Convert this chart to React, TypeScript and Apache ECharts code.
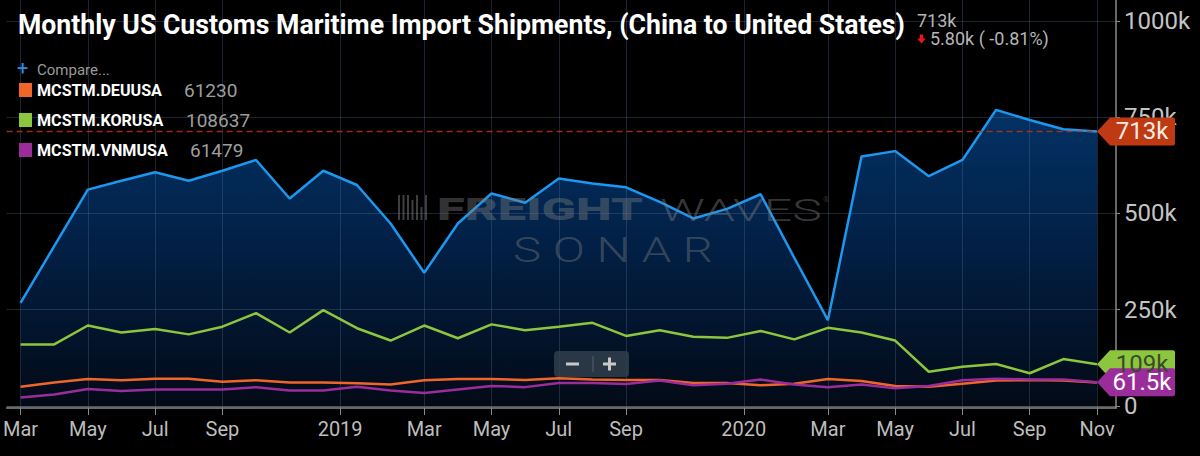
import React, { useEffect, useRef } from "react";
import * as echarts from "echarts";

// Months from Mar 2018 to Nov 2020 (index 0..32)
const monthLabels = [
  "2018-03", "2018-04", "2018-05", "2018-06", "2018-07", "2018-08", "2018-09", "2018-10", "2018-11", "2018-12",
  "2019-01", "2019-02", "2019-03", "2019-04", "2019-05", "2019-06", "2019-07", "2019-08", "2019-09", "2019-10",
  "2019-11", "2019-12", "2020-01", "2020-02", "2020-03", "2020-04", "2020-05", "2020-06", "2020-07", "2020-08",
  "2020-09", "2020-10", "2020-11",
];

// values in thousands of shipments
const chinaK = [268, 415, 562, 585, 607, 585, 611, 639, 539, 611, 574, 474, 346, 474, 552, 528, 591, 578, 568, 530, 487, 512, 550, 385, 223, 648, 662, 597, 639, 769, 743, 719, 713];
const koreaK = [160, 160, 209, 191, 200, 186, 206, 241, 191, 249, 202, 170, 209, 176, 212, 197, 206, 216, 182, 197, 180, 177, 195, 173, 203, 191, 170, 89, 102, 109, 85, 122, 108.637];
const germanyK = [50, 61, 70, 67, 71, 71, 63, 67, 61, 61, 59, 56, 67, 70, 70, 67.5, 72, 69, 67.5, 67.5, 60, 60, 54, 58, 70, 65, 52, 50, 58, 66, 67.5, 66, 61.23];
const vietnamK = [22, 30, 44, 39, 43, 43, 43, 49, 40, 40, 50, 40, 34, 43, 52, 49, 60, 60, 57, 66, 54, 58, 69, 56, 49, 56, 46, 52, 67, 71, 69, 69, 61.479];

const seriesNames = ["MCSTM.CHNUSA", "MCSTM.KORUSA", "MCSTM.DEUUSA", "MCSTM.VNMUSA"];

const xTickPositions = [0, 2, 4, 6, 9.5, 12, 14, 16, 18, 21.5, 24, 26, 28, 30, 32];
const xTickLabels = ["Mar", "May", "Jul", "Sep", "2019", "Mar", "May", "Jul", "Sep", "2020", "Mar", "May", "Jul", "Sep", "Nov"];
const yTickValues = [0, 250, 500, 750, 1000];

const titleText = "Monthly US Customs Maritime Import Shipments, (China to United States)";
const headlineValue = "713k";
const headlineChange = "5.80k ( -0.81%)";

const FONT = 'Roboto, "Noto Sans", sans-serif';

function measure(text: string, font: string): number {
  const ctx = document.createElement("canvas").getContext("2d");
  if (!ctx) return text.length * 10;
  ctx.font = font;
  return ctx.measureText(text).width;
}

function fitScale(text: string, weight: string, size: number, target: number): number {
  const w = measure(text, `${weight} ${size}px Roboto`);
  return w > 0 ? target / w : 1;
}

function tagLabel(v: number): string {
  return v >= 100 ? `${Math.round(v)}k` : `${v.toFixed(1)}k`;
}

const pairs = (arr: number[]) => arr.map((v, i) => [i, v]);
const last = (arr: number[]) => arr[arr.length - 1];

const TAG_PATH = "path://M0,14 L13,0 L76,0 Q78,0 78,2 L78,26 Q78,28 76,28 L13,28 Z";

function tagMarker(arr: number[], bg: string, fg: string) {
  const v = last(arr);
  return {
    silent: true,
    symbol: TAG_PATH,
    symbolSize: [78, 28],
    symbolOffset: [39, 0],
    itemStyle: { color: bg },
    label: {
      show: true,
      position: "inside",
      offset: [6, 0],
      formatter: tagLabel(v),
      color: fg,
      fontSize: 24,
      fontFamily: FONT,
    },
    data: [{ coord: [arr.length - 1, v], value: v }],
  };
}

export default function App() {
  const ref = useRef<HTMLDivElement>(null);

  useEffect(() => {
    document.body.style.margin = "0";
    document.body.style.background = "#000";
    if (!ref.current) return;
    const chart = echarts.init(ref.current, undefined, { renderer: "svg" });

    const gridColor = "rgba(90,120,160,0.30)";
    const dashColor = "#b8321a";
    const titleScale = fitScale(titleText, "bold", 28, 887);
    const nameScale = fitScale("MCSTM.DEUUSA", "bold", 17, 125);
    const freightScale = fitScale("FREIGHT", "900", 32, 206);
    const wavesScale = fitScale("WAVES", "300", 32, 162);
    const sonarScale = fitScale("S O N A R", "300", 35, 200);

    const legendRows = [
      { name: seriesNames[2], color: "#f0662a", value: Math.round(last(germanyK) * 1000), y: 90, vx: 184 },
      { name: seriesNames[1], color: "#8cc63e", value: Math.round(last(koreaK) * 1000), y: 120, vx: 186 },
      { name: seriesNames[3], color: "#9b2d9b", value: Math.round(last(vietnamK) * 1000), y: 150, vx: 190 },
    ];

    const graphics: any[] = [
      {
        type: "text", x: 18, y: 25, scaleX: titleScale, z: 10,
        style: { text: titleText, fill: "#ffffff", font: `bold 28px ${FONT}`, verticalAlign: "middle", align: "left" },
      },
      {
        type: "text", x: 17, y: 68, z: 10,
        style: { text: "+", fill: "#2d8fe6", font: `20px ${FONT}`, verticalAlign: "middle" },
      },
      {
        type: "text", x: 37, y: 70, z: 10,
        style: { text: "Compare...", fill: "#9a9a9a", font: `15px ${FONT}`, verticalAlign: "middle" },
      },
      {
        type: "text", x: 917, y: 20, z: 10,
        style: { text: headlineValue, fill: "#b5b5b5", font: `18px ${FONT}`, verticalAlign: "middle" },
      },
      {
        type: "polygon", z: 10,
        shape: { points: [[919.8, 34.5], [923.2, 34.5], [923.2, 38.5], [925.8, 38.5], [921.5, 43.5], [917.2, 38.5], [919.8, 38.5]] },
        style: { fill: "#e8141e" },
      },
      {
        type: "text", x: 930, y: 38, z: 10,
        style: { text: headlineChange, fill: "#b5b5b5", font: `18px ${FONT}`, verticalAlign: "middle" },
      },
      // zoom buttons
      {
        type: "rect", z: 10,
        shape: { x: 554, y: 351, width: 75, height: 26, r: 4 },
        style: { fill: "rgba(52,66,80,0.78)" },
      },
      {
        type: "line", z: 10,
        shape: { x1: 593, y1: 356, x2: 593, y2: 372 },
        style: { stroke: "#56616c", lineWidth: 1 },
      },
      {
        type: "rect", z: 11,
        shape: { x: 566, y: 362.5, width: 13, height: 3 },
        style: { fill: "#c8c8c8" },
      },
      {
        type: "rect", z: 11,
        shape: { x: 603, y: 362.5, width: 13, height: 3 },
        style: { fill: "#c8c8c8" },
      },
      {
        type: "rect", z: 11,
        shape: { x: 608, y: 357.5, width: 3, height: 13 },
        style: { fill: "#c8c8c8" },
      },
      // watermark
      {
        type: "text", x: 437, y: 209.5, scaleX: freightScale, z: 1,
        style: { text: "FREIGHT", fill: "rgba(125,125,125,0.42)", font: `900 32px ${FONT}`, verticalAlign: "middle" },
      },
      {
        type: "text", x: 660, y: 209.5, scaleX: wavesScale, z: 1,
        style: { text: "WAVES", fill: "rgba(125,125,125,0.45)", font: `300 32px ${FONT}`, verticalAlign: "middle" },
      },
      {
        type: "text", x: 823, y: 199, z: 1,
        style: { text: "®", fill: "rgba(125,125,125,0.42)", font: `8px ${FONT}`, verticalAlign: "middle" },
      },
      {
        type: "text", x: 513, y: 249.5, scaleX: sonarScale, z: 1,
        style: { text: "S O N A R", fill: "rgba(125,125,125,0.42)", font: `300 35px ${FONT}`, verticalAlign: "middle" },
      },
    ];

    const barX = [398, 402.5, 407, 411.5, 416, 420.5, 425];
    const barTop = [195, 195, 195, 200, 195, 207, 195];
    barX.forEach((bx, k) => {
      graphics.push({
        type: "rect", z: 1,
        shape: { x: bx, y: barTop[k], width: 2, height: 220 - barTop[k] },
        style: { fill: "rgba(125,125,125,0.5)" },
      });
    });

    legendRows.forEach((r) => {
      graphics.push(
        { type: "rect", z: 10, shape: { x: 19, y: r.y - 7, width: 13, height: 14 }, style: { fill: r.color } },
        {
          type: "text", x: 37, y: r.y, scaleX: nameScale, z: 10,
          style: { text: r.name, fill: "#ffffff", font: `bold 17px ${FONT}`, verticalAlign: "middle" },
        },
        {
          type: "text", x: r.vx, y: r.y, z: 10,
          style: { text: String(r.value), fill: "#9e9e9e", font: `19px ${FONT}`, verticalAlign: "middle" },
        }
      );
    });

    const option: any = {
      animation: false,
      backgroundColor: "#000000",
      textStyle: { fontFamily: FONT },
      grid: { left: 0, right: 84, top: 0, bottom: 48, containLabel: false },
      xAxis: {
        type: "value",
        min: -0.414,
        max: 32.565,
        z: 1,
        axisLine: { show: true, onZero: false, lineStyle: { color: "#8a8a8a", width: 1.5 } },
        axisTick: { show: true, length: 7, customValues: xTickPositions, lineStyle: { color: "#8a8a8a", width: 1 } },
        axisLabel: {
          show: true,
          customValues: xTickPositions,
          formatter: (v: number) => {
            const k = xTickPositions.findIndex((p) => Math.abs(p - v) < 1e-6);
            return k >= 0 ? xTickLabels[k] : "";
          },
          color: "#bdbdbd",
          fontSize: 20,
          fontFamily: FONT,
          margin: 11,
        },
        splitLine: { show: true, lineStyle: { color: gridColor, width: 1 } },
      },
      yAxis: {
        type: "value",
        position: "right",
        min: -5.2,
        max: 1054.5,
        z: 1,
        axisLine: { show: true, onZero: false, lineStyle: { color: "#8a8a8a", width: 1.5 } },
        axisTick: { show: true, length: 4, customValues: yTickValues, lineStyle: { color: "#8a8a8a", width: 1 } },
        axisLabel: {
          show: true,
          customValues: yTickValues,
          formatter: (v: number) => (v === 0 ? "0" : `${v}k`),
          color: "#c4c4c4",
          fontSize: 24,
          fontFamily: FONT,
          margin: 8,
          padding: [0, 0, 6, 0],
        },
        splitLine: { show: true, lineStyle: { color: ["#4d535b", gridColor, gridColor, gridColor, gridColor], width: 1 } },
      },
      graphic: graphics,
      series: [
        {
          name: seriesNames[0],
          type: "line",
          z: 0,
          data: pairs(chinaK),
          showSymbol: false,
          symbol: "none",
          silent: true,
          lineStyle: { color: "#1b98f0", width: 2.5 },
          areaStyle: {
            color: new echarts.graphic.LinearGradient(0, 0, 0, 1, [
              { offset: 0, color: "#033264" },
              { offset: 0.45, color: "#022046" },
              { offset: 1, color: "#030a16" },
            ]),
            opacity: 1,
          },
          markPoint: tagMarker(chinaK, "#bf3a12", "#f6ece4"),
        },
        {
          name: "last-value-line",
          type: "line",
          z: 3,
          data: [[-0.414, last(chinaK)], [chinaK.length - 1, last(chinaK)]],
          showSymbol: false,
          symbol: "none",
          silent: true,
          lineStyle: { color: dashColor, type: [6, 4], width: 1.3, opacity: 0.85 },
        },
        {
          name: seriesNames[1],
          type: "line",
          z: 2,
          data: pairs(koreaK),
          showSymbol: false,
          symbol: "none",
          silent: true,
          lineStyle: { color: "#8cc63e", width: 2.5 },
          markPoint: tagMarker(koreaK, "#8cc63e", "#3a4a28"),
        },
        {
          name: seriesNames[2],
          type: "line",
          z: 2,
          data: pairs(germanyK),
          showSymbol: false,
          symbol: "none",
          silent: true,
          lineStyle: { color: "#f0662a", width: 2.5 },
        },
        {
          name: seriesNames[3],
          type: "line",
          z: 2,
          data: pairs(vietnamK),
          showSymbol: false,
          symbol: "none",
          silent: true,
          lineStyle: { color: "#9b2d9b", width: 2.5 },
          markPoint: tagMarker(vietnamK, "#9b2d9b", "#ffffff"),
        },
      ],
    };

    chart.setOption(option);
    return () => chart.dispose();
  }, []);

  return <div ref={ref} style={{ width: 1200, height: 456, background: "#000" }} data-months={monthLabels.length} />;
}
